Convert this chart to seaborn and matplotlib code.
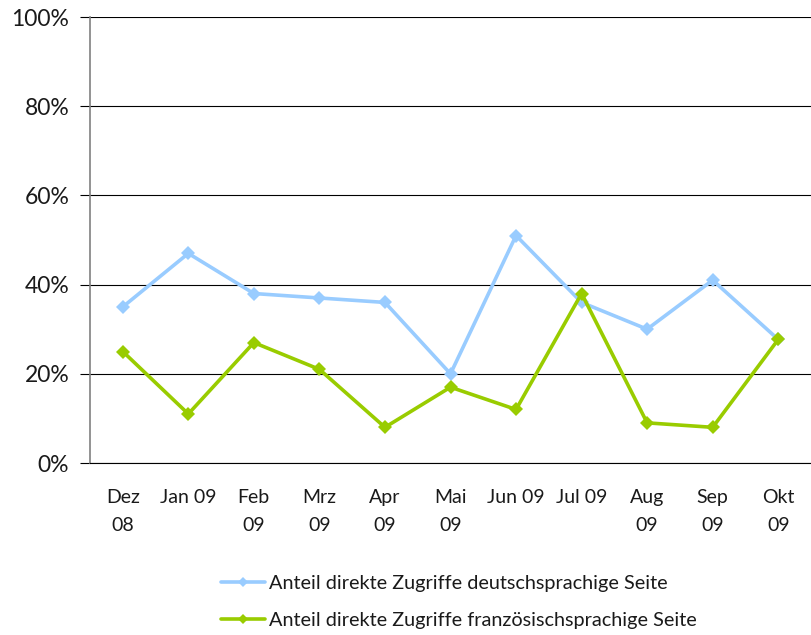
import pandas as pd
import matplotlib.pyplot as plt
import seaborn as sns

# Monthly values (percent)
months = ["Dez\n08", "Jan 09", "Feb\n09", "Mrz\n09", "Apr\n09", "Mai\n09",
          "Jun 09", "Jul 09", "Aug\n09", "Sep\n09", "Okt\n09"]
de_share = [35, 47, 38, 37, 36, 20, 51, 36, 30, 41, 27.7]
fr_share = [25, 11, 27, 21, 8, 17, 12, 38, 9, 8, 27.7]
series_names = ["Anteil direkte Zugriffe deutschsprachige Seite",
                "Anteil direkte Zugriffe französischsprachige Seite"]
y_ticks = [0, 20, 40, 60, 80, 100]

# long format for seaborn
df = pd.DataFrame({
    "Monat": months * 2,
    "Anteil": de_share + fr_share,
    "Serie": [series_names[0]] * len(months) + [series_names[1]] * len(months),
})

sns.set_style("white")
plt.rcParams["font.family"] = ["Lato", "DejaVu Sans"]
text_color = "#1a1a1a"

fig = plt.figure(figsize=(8.12, 6.35), dpi=100)
ax = fig.add_axes([90 / 812, 172 / 635, 721 / 812, 446 / 635])

palette = {series_names[0]: "#99CCFF", series_names[1]: "#99CC00"}
sns.lineplot(data=df, x="Monat", y="Anteil", hue="Serie", style="Serie",
             palette=palette, markers=["D", "D"], dashes=False,
             linewidth=2.6, markersize=7, markeredgewidth=0, sort=False, ax=ax)

ax.set_xlim(-0.5, len(months) - 0.5)
ax.set_ylim(0, 100)
ax.set_yticks(y_ticks)
ax.set_yticklabels([f"{t}%" for t in y_ticks])
ax.yaxis.grid(True, color="black", linewidth=0.8)
ax.set_axisbelow(True)

# labels centred on categories, tick marks between them
ax.set_xticks(range(len(months)))
ax.set_xticklabels(months, linespacing=1.75)
ax.set_xticks([i - 0.5 for i in range(len(months) + 1)], minor=True)
ax.tick_params(axis="x", which="major", length=0, pad=19, labelsize=14, colors=text_color)
ax.tick_params(axis="x", which="minor", length=6, width=0.8, color="black", direction="out")
ax.tick_params(axis="y", length=7, width=0.8, pad=8, labelsize=16.5, colors=text_color,
               left=True, color="black")

ax.set_xlabel("")
ax.set_ylabel("")
for side in ["top", "right"]:
    ax.spines[side].set_visible(False)
ax.spines["left"].set_color("#808080")
ax.spines["left"].set_linewidth(1.2)
ax.spines["bottom"].set_color("black")
ax.spines["bottom"].set_linewidth(0.8)

handles, labels = ax.get_legend_handles_labels()
ax.legend(handles, labels, loc="center left", bbox_to_anchor=(211 / 812, 33 / 635),
          bbox_transform=fig.transFigure, frameon=False, fontsize=14.3,
          handlelength=2.2, handletextpad=0.2, labelspacing=1.05, borderpad=0,
          labelcolor=text_color, markerscale=0.7)

fig.savefig("out.png", dpi=100)
